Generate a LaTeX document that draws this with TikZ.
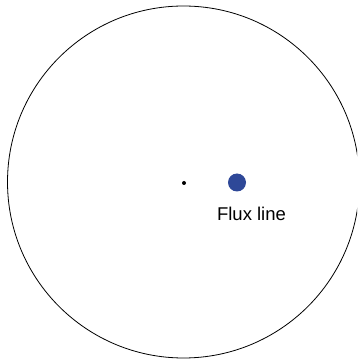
\documentclass[tikz,border=0pt]{standalone}
\usepackage{fontspec}
\setmainfont{Liberation Sans}
\definecolor{fluxblue}{RGB}{46,72,152}
\begin{document}
\begin{tikzpicture}[x=1pt,y=1pt,
  dotstyle/.style={circle,fill=black,inner sep=0pt,minimum size=4pt},
  fluxstyle/.style={circle,fill=fluxblue,inner sep=0pt,minimum size=18pt},
  labelstyle/.style={font=\fontsize{18.5}{22}\selectfont,inner sep=0pt}]
\useasboundingbox (0,0) rectangle (357,359);
\clip (0,0) rectangle (357,359);
\draw[line width=0.8pt] (183.5,177) circle (176);
\node[dotstyle] (center) at (184,176) {};
\node[fluxstyle] (flux) at (237,176.5) {};
\node[labelstyle] (label) at (251.5,145.5) {Flux line};
\end{tikzpicture}
\end{document}
